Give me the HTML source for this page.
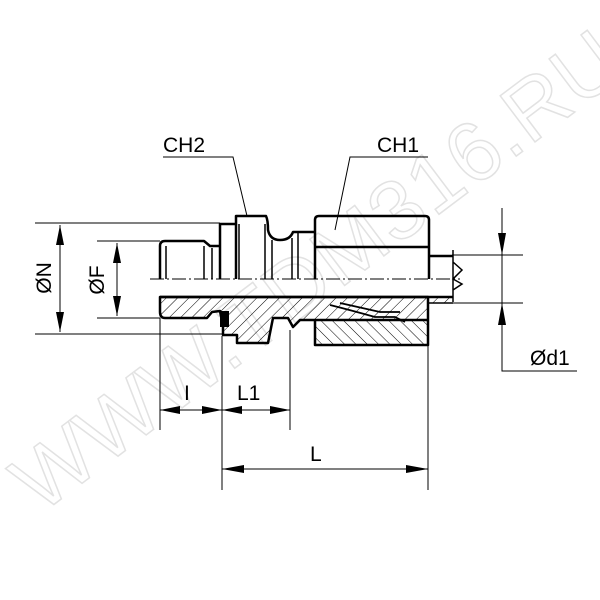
<!DOCTYPE html>
<html><head><meta charset="utf-8"><style>
html,body{margin:0;padding:0;background:#fff;width:600px;height:600px;overflow:hidden}
svg text{font-family:"Liberation Sans",sans-serif}
</style></head><body>
<svg width="600" height="600" viewBox="0 0 600 600" xmlns="http://www.w3.org/2000/svg">
<defs>
<pattern id="h1" width="8" height="8" patternUnits="userSpaceOnUse" patternTransform="rotate(45)">
<line x1="0" y1="0" x2="0" y2="8" stroke="#000" stroke-width="1"/></pattern>
<pattern id="h2" width="8" height="8" patternUnits="userSpaceOnUse" patternTransform="rotate(-45)">
<line x1="0" y1="0" x2="0" y2="8" stroke="#000" stroke-width="1"/></pattern>
</defs>
<rect width="600" height="600" fill="#fff"/>

<!-- watermark -->
<text x="0" y="0" font-size="84" fill="none" stroke="#e2e2e2" stroke-width="1.5" transform="translate(40,515) rotate(-37)" letter-spacing="1">WWW.TDM316.RU</text>

<!-- hatched sections -->
<path d="M160,297 L428,297 L428,320 L315,320 L300,320 L293,327 L288,318 L273,318 L268,343 L237,343 L237,335 L223,335 L223,327 L220,311 L212,312 L207,318 L165,318 Q160,318 160,312 Z" fill="url(#h1)" stroke="none"/>
<rect x="315" y="320" width="113" height="25" fill="url(#h2)"/>
<path d="M160,297 L428,297 L428,345 L315,345 L315,320 L300,320 L293,327 L288,318 L273,318 L268,343 L237,343 L237,335 L223,335 L223,327 L220,311 L212,312 L207,318 L165,318 Q160,318 160,312 Z" fill="none" stroke="#000" stroke-width="2.5" stroke-linejoin="round"/>
<path d="M315,320 L428,320" stroke="#000" stroke-width="2.5"/>
<path d="M330,305 Q350,310 375,317 L395,317 L405,322 M340,303 L380,312 L400,312" fill="none" stroke="#000" stroke-width="1.8"/>
<rect x="220" y="311" width="9" height="16" fill="#000"/>

<!-- upper view -->
<g fill="none" stroke="#000" stroke-width="2.5" stroke-linejoin="round">
<path d="M160,279 L160,246 Q160,241 165,241 L204,241 L210,246 L220,246"/>
<path d="M220,279 L220,224 L236,224 L236,216 L266,216 Q268,220 268,230 Q270,240 280,240 Q290,240 293,232 L315,232"/>
<path d="M236,279 L236,224"/>
<path d="M315,279 L315,220 Q315,216 319,216 L425,216 Q429,216 429,220 L429,279"/>
<path d="M315,247 L429,247"/>
<path d="M429,256 L453,256"/>
<path d="M160,297 L453,297"/>
</g>
<g fill="none" stroke="#000" stroke-width="1.5">
<path d="M166,246 L166,279 M204,246 L204,279 M212,248 L212,279 M239,224 L239,279 M265,224 L265,279 M272,240 L272,279 M292,238 L292,279 M298,232 L298,279"/>
<path d="M453,250 L453,302 M453,262 L462,270 L453,279 L462,284 L453,290"/>
</g>
<rect x="428" y="297" width="25" height="6" fill="url(#h1)"/>
<line x1="428" y1="303" x2="453" y2="303" stroke="#000" stroke-width="1.5"/>
<line x1="150" y1="279" x2="460" y2="279" stroke="#000" stroke-width="1" stroke-dasharray="14,3,2,3"/>

<!-- dimension lines -->
<g stroke="#000" stroke-width="1" fill="none">
<path d="M35,223 L220,223 M35,334 L223,334 M97,241 L160,241 M97,318 L160,318"/>
<path d="M60,225 L60,332 M117,243 L117,316"/>
<path d="M160,318 L160,430 M222,336 L222,490 M290,330 L290,430 M428,346 L428,490"/>
<path d="M160,410 L290,410 M222,469 L428,469"/>
<path d="M452,255 L523,255 M452,303 L523,303 M502,208 L502,371 L577,371"/>
</g>
<g fill="#000">
<path d="M60,225 L56,245 L64,245 Z M60,332 L56,312 L64,312 Z"/>
<path d="M117,243 L113,263 L121,263 Z M117,316 L113,296 L121,296 Z"/>
<path d="M160,410 L180,406 L180,414 Z M222,410 L202,406 L202,414 Z M222,410 L242,406 L242,414 Z M290,410 L270,406 L270,414 Z"/>
<path d="M222,469 L244,465 L244,473 Z M428,469 L406,465 L406,473 Z"/>
<path d="M502,255 L498,233 L506,233 Z M502,303 L498,325 L506,325 Z"/>
</g>

<!-- leaders -->
<path d="M163,157 L233,157 L247,216 M428,157 L350,157 L335,230" stroke="#000" stroke-width="1" fill="none"/>

<!-- labels -->
<g font-size="21" fill="#000">
<text x="163" y="152">CH2</text>
<text x="377" y="152">CH1</text>
<text x="310" y="461">L</text>
<text x="237" y="400">L1</text>
<text x="184" y="400">I</text>
<text x="530" y="365">Ød1</text>
<text transform="translate(51,278) rotate(-90)" text-anchor="middle">ØN</text>
<text transform="translate(104,280) rotate(-90)" text-anchor="middle">ØF</text>
</g>
</svg>
</body></html>
